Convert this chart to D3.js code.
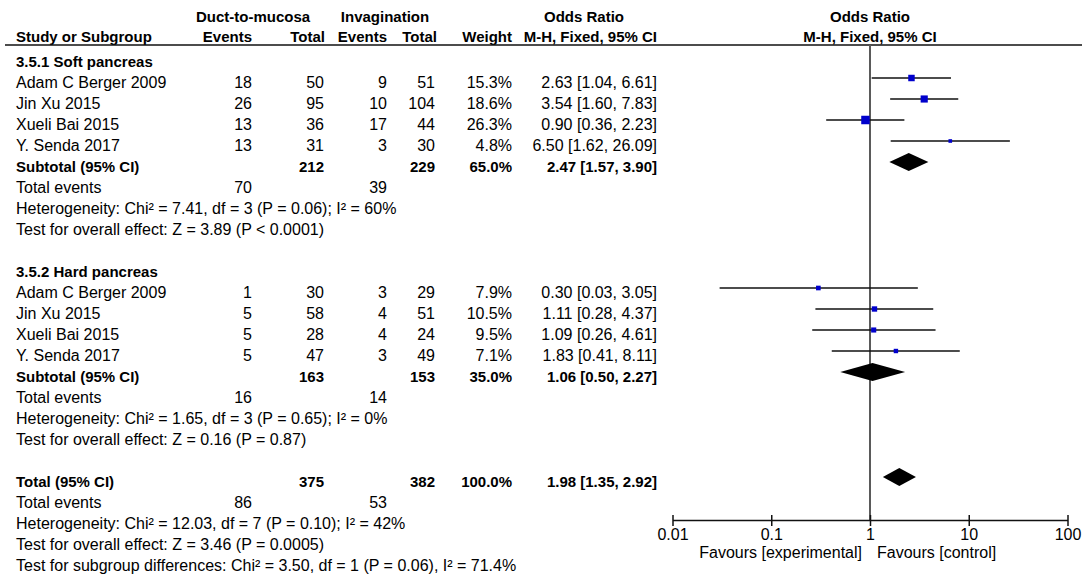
<!DOCTYPE html>
<html>
<head>
<meta charset="utf-8">
<title>Forest plot</title>
<script src="https://cdn.jsdelivr.net/npm/d3@7"></script>
<style>
  body { margin: 0; background: #fff; }
  svg { display: block; font-family: "Liberation Sans", Arial, sans-serif; }
  text { fill: #000; }
  .b { font-weight: bold; font-size: 15px; }
  .r { font-size: 16px; }
</style>
</head>
<body>
<script>
// --- data ---
var softStudies   = ["Adam C Berger 2009", "Jin Xu 2015", "Xueli Bai 2015", "Y. Senda 2017"];
var softEventsDuct = [18, 26, 13, 13];
var softTotalDuct  = [50, 95, 36, 31];
var softEventsInv  = [9, 10, 17, 3];
var softTotalInv   = [51, 104, 44, 30];
var softWeight     = [15.3, 18.6, 26.3, 4.8];
var softOR         = [2.63, 3.54, 0.90, 6.50];
var softLow        = [1.04, 1.60, 0.36, 1.62];
var softHigh       = [6.61, 7.83, 2.23, 26.09];

var hardStudies   = ["Adam C Berger 2009", "Jin Xu 2015", "Xueli Bai 2015", "Y. Senda 2017"];
var hardEventsDuct = [1, 5, 5, 5];
var hardTotalDuct  = [30, 58, 28, 47];
var hardEventsInv  = [3, 4, 4, 3];
var hardTotalInv   = [29, 51, 24, 49];
var hardWeight     = [7.9, 10.5, 9.5, 7.1];
var hardOR         = [0.30, 1.11, 1.09, 1.83];
var hardLow        = [0.03, 0.28, 0.26, 0.41];
var hardHigh       = [3.05, 4.37, 4.61, 8.11];

// subtotal / total: [totalDuct, totalInv, weight, OR, low, high, eventsDuct, eventsInv]
var softSummary  = [212, 229, 65.0, 2.47, 1.57, 3.90, 70, 39];
var hardSummary  = [163, 153, 35.0, 1.06, 0.50, 2.27, 16, 14];
var totalSummary = [375, 382, 100.0, 1.98, 1.35, 2.92, 86, 53];

var softHet  = "Heterogeneity: Chi\u00b2 = 7.41, df = 3 (P = 0.06); I\u00b2 = 60%";
var softZ    = "Test for overall effect: Z = 3.89 (P < 0.0001)";
var hardHet  = "Heterogeneity: Chi\u00b2 = 1.65, df = 3 (P = 0.65); I\u00b2 = 0%";
var hardZ    = "Test for overall effect: Z = 0.16 (P = 0.87)";
var totalHet = "Heterogeneity: Chi\u00b2 = 12.03, df = 7 (P = 0.10); I\u00b2 = 42%";
var totalZ   = "Test for overall effect: Z = 3.46 (P = 0.0005)";
var subgroupTest = "Test for subgroup differences: Chi\u00b2 = 3.50, df = 1 (P = 0.06), I\u00b2 = 71.4%";

var tickValues = [0.01, 0.1, 1, 10, 100];
var tickLabels = ["0.01", "0.1", "1", "10", "100"];

// --- canvas ---
var width = 1084, height = 575;
var svg = d3.select("body").append("svg")
    .attr("width", width)
    .attr("height", height);

// scales
var x = d3.scaleLog().domain([0.01, 100]).range([672.5, 1067.5]);
var row = d3.scaleLinear().domain([0, 24]).range([57, 57 + 21 * 24]);
var boxSize = d3.scaleSqrt().domain([0, 26.3]).range([0, 8.5]);

// column right edges
var col = { name: 16, evD: 252, totD: 324, evI: 387, totI: 435, wt: 512, or: 657 };

function txt(xp, yp, s, anchor, bold) {
    svg.append("text")
        .attr("class", bold ? "b" : "r")
        .attr("x", xp)
        .attr("y", yp)
        .attr("text-anchor", anchor || "start")
        .text(s);
}
function fmtOR(o, l, h) {
    return o.toFixed(2) + " [" + l.toFixed(2) + ", " + h.toFixed(2) + "]";
}

// header
txt(253, 22, "Duct-to-mucosa", "middle", true);
txt(385, 22, "Invagination", "middle", true);
txt(584, 22, "Odds Ratio", "middle", true);
txt(870, 22, "Odds Ratio", "middle", true);
txt(col.name, 42, "Study or Subgroup", "start", true);
txt(col.evD, 42, "Events", "end", true);
txt(col.totD + 1, 42, "Total", "end", true);
txt(col.evI, 42, "Events", "end", true);
txt(col.totI + 2, 42, "Total", "end", true);
txt(col.wt, 42, "Weight", "end", true);
txt(col.or, 42, "M-H, Fixed, 95% CI", "end", true);
txt(870, 42, "M-H, Fixed, 95% CI", "middle", true);

svg.append("line")
    .attr("x1", 5).attr("x2", 1082)
    .attr("y1", 45).attr("y2", 45)
    .attr("stroke", "#111").attr("stroke-width", 1.5);

// line of no effect
svg.append("line")
    .attr("x1", x(1)).attr("x2", x(1))
    .attr("y1", 45).attr("y2", 520)
    .attr("stroke", "#5a5a5a").attr("stroke-width", 2);

function studyRows(start, names, evD, totD, evI, totI, wt, or, lo, hi) {
    names.forEach(function (n, i) {
        var y = row(start + i);
        txt(col.name, y + 10, n);
        txt(col.evD, y + 10, evD[i], "end");
        txt(col.totD, y + 10, totD[i], "end");
        txt(col.evI, y + 10, evI[i], "end");
        txt(col.totI, y + 10, totI[i], "end");
        txt(col.wt, y + 10, wt[i].toFixed(1) + "%", "end");
        txt(col.or, y + 10, fmtOR(or[i], lo[i], hi[i]), "end");

        svg.append("line")
            .attr("x1", x(lo[i])).attr("x2", x(hi[i]))
            .attr("y1", y).attr("y2", y)
            .attr("stroke", "#111").attr("stroke-width", 1.6);
        var s = boxSize(wt[i]);
        svg.append("rect")
            .attr("x", x(or[i]) - s / 2).attr("y", y - s / 2)
            .attr("width", s).attr("height", s)
            .attr("fill", "#0000cc");
    });
}

function summaryRows(r, label, sm, het, z) {
    var y = row(r);
    txt(col.name, y + 10, label, "start", true);
    txt(col.totD, y + 10, sm[0], "end", true);
    txt(col.totI, y + 10, sm[1], "end", true);
    txt(col.wt, y + 10, sm[2].toFixed(1) + "%", "end", true);
    txt(col.or, y + 10, fmtOR(sm[3], sm[4], sm[5]), "end", true);
    svg.append("path")
        .attr("d", "M" + x(sm[4]) + "," + y +
                   "L" + x(sm[3]) + "," + (y - 9) +
                   "L" + x(sm[5]) + "," + y +
                   "L" + x(sm[3]) + "," + (y + 9) + "Z")
        .attr("fill", "#000");

    var y1 = row(r + 1);
    txt(col.name, y1 + 10, "Total events");
    txt(col.evD, y1 + 10, sm[6], "end");
    txt(col.evI, y1 + 10, sm[7], "end");
    txt(col.name, row(r + 2) + 10, het);
    txt(col.name, row(r + 3) + 10, z);
}

txt(col.name, row(0) + 10, "3.5.1 Soft pancreas", "start", true);
studyRows(1, softStudies, softEventsDuct, softTotalDuct, softEventsInv, softTotalInv, softWeight, softOR, softLow, softHigh);
summaryRows(5, "Subtotal (95% CI)", softSummary, softHet, softZ);

txt(col.name, row(10) + 10, "3.5.2 Hard pancreas", "start", true);
studyRows(11, hardStudies, hardEventsDuct, hardTotalDuct, hardEventsInv, hardTotalInv, hardWeight, hardOR, hardLow, hardHigh);
summaryRows(15, "Subtotal (95% CI)", hardSummary, hardHet, hardZ);

summaryRows(20, "Total (95% CI)", totalSummary, totalHet, totalZ);
txt(col.name, row(24) + 10, subgroupTest);

// axis
var axis = svg.append("g")
    .attr("transform", "translate(0,520)")
    .call(d3.axisBottom(x)
        .tickValues(tickValues)
        .tickFormat(function (d, i) { return tickLabels[i]; })
        .tickSizeOuter(0));
axis.select(".domain").attr("stroke", "#111").attr("stroke-width", 1.5);
axis.selectAll(".tick line")
    .attr("y1", -5).attr("y2", 6)
    .attr("stroke", "#111").attr("stroke-width", 1.5);
axis.selectAll(".tick text")
    .attr("class", "r")
    .attr("y", 20).attr("dy", null)
    .style("fill", "#000");
axis.attr("font-family", null).attr("font-size", null);

txt(862, 558, "Favours [experimental]", "end");
txt(877, 558, "Favours [control]", "start");
</script>
</body>
</html>
